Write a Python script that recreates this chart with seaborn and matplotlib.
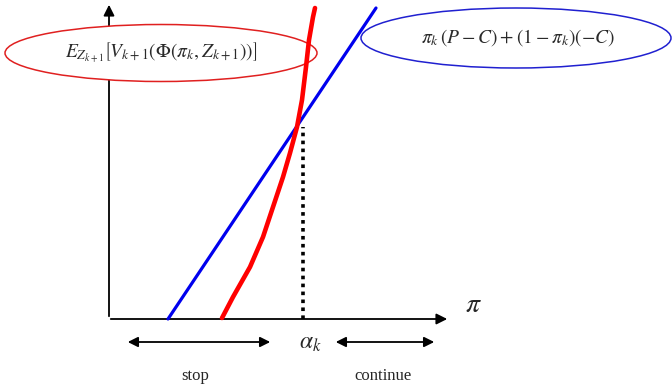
import numpy as np
import matplotlib
matplotlib.use('Agg')
import matplotlib.pyplot as plt
from matplotlib.patches import Ellipse
import seaborn as sns

# values (origin at the axis corner)
blue_pi = [59, 267]
blue_val = [0, 311]
red_pi = [113, 124, 141, 154, 164, 174, 181, 188, 193, 197, 200, 204, 206]
red_val = [1, 22, 52, 82, 112, 142, 166, 192, 219, 252, 279, 302, 311]
alpha_k = 194
alpha_val = 192

red_label = r'$E_{Z_{k+1}}\left[V_{k+1}\left(\Phi\left(\pi_k, Z_{k+1}\right)\right)\right]$'
blue_label = r'$\pi_k\,(P-C)+(1-\pi_k)(-C)$'

sns.set_style('white')
plt.rcParams['font.family'] = ['Liberation Serif', 'DejaVu Serif']
plt.rcParams['mathtext.fontset'] = 'stix'

fig = plt.figure(figsize=(6.72, 3.88), dpi=100)
ax = fig.add_axes([0, 0, 1, 1])
ax.set_xlim(-109, 563)
ax.set_ylim(-69, 319)
ax.axis('off')

# axes with arrows
ax.annotate('', xy=(0, 317), xytext=(0, 0),
            arrowprops=dict(arrowstyle='-|>', color='black', lw=1.3, mutation_scale=16))
ax.annotate('', xy=(341, 0), xytext=(-1, 0),
            arrowprops=dict(arrowstyle='-|>', color='black', lw=1.3, mutation_scale=16))

# labelled ellipses
ax.add_patch(Ellipse((52, 266), 312, 57, facecolor='white', edgecolor='#e02020', lw=1.1, zorder=3))
ax.add_patch(Ellipse((407, 281), 310, 60, facecolor='white', edgecolor='#2020d0', lw=1.1, zorder=3))
ax.text(52, 266, red_label, ha='center', va='center', fontsize=14, color='#2a2a2a', zorder=5)
ax.text(409, 281, blue_label, ha='center', va='center', fontsize=14, color='#2a2a2a', zorder=5)

# curves
sns.lineplot(x=blue_pi, y=blue_val, ax=ax, color='#0000ee', linewidth=2.3, zorder=4)
sns.lineplot(x=red_pi, y=red_val, ax=ax, color='#ff0000', linewidth=3.3, zorder=4,
             solid_joinstyle='round')
ax.plot([alpha_k, alpha_k], [0, alpha_val], color='black', lw=2.6, ls=(0, (1, 1.2)), zorder=2)

# region arrows
ax.annotate('', xy=(16, -23), xytext=(164, -23),
            arrowprops=dict(arrowstyle='<|-|>', color='black', lw=1.3, mutation_scale=15))
ax.annotate('', xy=(224, -23), xytext=(328, -23),
            arrowprops=dict(arrowstyle='<|-|>', color='black', lw=1.3, mutation_scale=15))

ax.text(364, 14, r'$\pi$', fontsize=20, ha='center', va='center')
ax.text(201, -24, r'$\alpha_k$', fontsize=17, ha='center', va='center')
ax.text(86, -57, 'stop', fontsize=12, ha='center', va='center')
ax.text(274, -57, 'continue', fontsize=12, ha='center', va='center')

fig.savefig('out.png', dpi=100)
